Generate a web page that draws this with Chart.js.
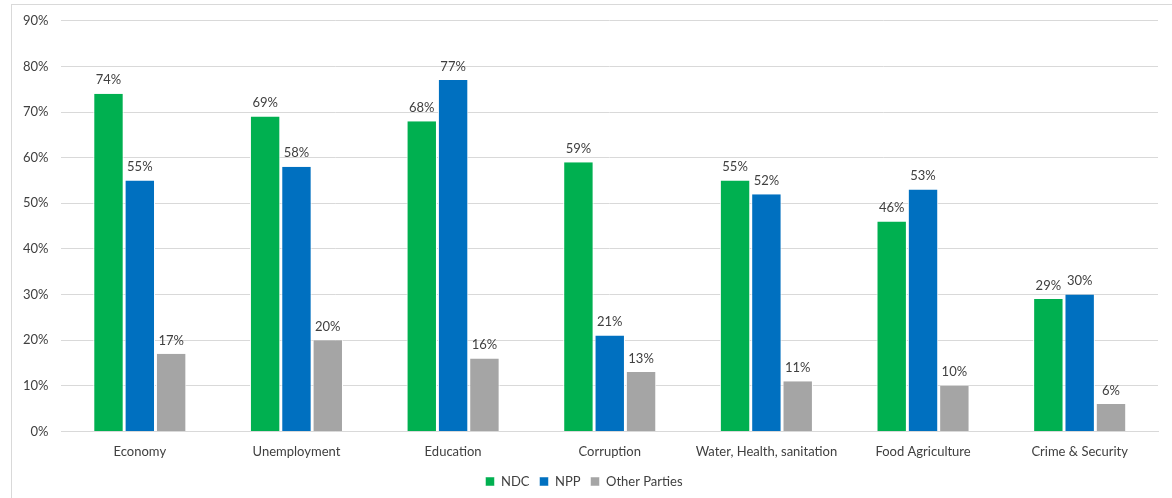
<!DOCTYPE html>
<html>
<head>
<meta charset="utf-8">
<script src="https://cdn.jsdelivr.net/npm/chart.js@4"></script>
<style>
  html, body { margin: 0; padding: 0; background: #fff; }
  #frame {
    position: absolute; left: 11px; top: 4px; width: 1170px; height: 500px;
    border-top: 1px solid #d9d9d9; border-left: 1px solid #d9d9d9;
  }
  #wrap { position: absolute; left: 0; top: 0; width: 1172px; height: 498px; }
</style>
</head>
<body>
<div id="frame"></div>
<div id="wrap"><canvas id="chart"></canvas></div>
<script>
// categories and values (percent)
const categories = ['Economy', 'Unemployment', 'Education', 'Corruption', 'Water, Health, sanitation', 'Food Agriculture', 'Crime & Security'];
const ndc = [74, 69, 68, 59, 55, 46, 29];
const npp = [55, 58, 77, 21, 52, 53, 30];
const others = [17, 20, 16, 13, 11, 10, 6];
const yTicks = [0, 10, 20, 30, 40, 50, 60, 70, 80, 90];

const FONT = 'Lato, "Open Sans", sans-serif';
const TEXT = '#404040';

// value labels above each bar
const barLabels = {
  id: 'barLabels',
  afterDatasetsDraw(chart) {
    const ctx = chart.ctx;
    ctx.save();
    ctx.font = '13px ' + FONT;
    ctx.fillStyle = TEXT;
    ctx.textAlign = 'center';
    ctx.textBaseline = 'bottom';
    chart.data.datasets.forEach((ds, i) => {
      chart.getDatasetMeta(i).data.forEach((bar, j) => {
        ctx.fillText(ds.data[j] + '%', bar.x, bar.y - 7);
      });
    });
    ctx.restore();
  }
};

new Chart(document.getElementById('chart'), {
  type: 'bar',
  data: {
    labels: categories,
    datasets: [
      { label: 'NDC', data: ndc, backgroundColor: '#00b050' },
      { label: 'NPP', data: npp, backgroundColor: '#0070c0' },
      { label: 'Other Parties', data: others, backgroundColor: '#a5a5a5' }
    ]
  },
  options: {
    responsive: true,
    maintainAspectRatio: false,
    animation: false,
    layout: { padding: { left: 10, right: 14, top: 10, bottom: 0 } },
    datasets: {
      bar: {
        categoryPercentage: 0.6,
        barPercentage: 0.97,
        borderColor: '#ffffff',
        borderWidth: { left: 1, right: 1 }
      }
    },
    plugins: {
      legend: {
        position: 'bottom',
        labels: {
          boxWidth: 9, boxHeight: 9, padding: 10,
          color: TEXT, font: { family: FONT, size: 13 }
        }
      },
      tooltip: { enabled: false }
    },
    scales: {
      x: {
        grid: { display: false },
        border: { color: '#d9d9d9' },
        ticks: { color: TEXT, font: { family: FONT, size: 13 }, padding: 5, maxRotation: 0 }
      },
      y: {
        min: 0, max: 90,
        afterBuildTicks: axis => { axis.ticks = yTicks.map(v => ({ value: v })); },
        grid: { color: '#d9d9d9', drawTicks: false },
        border: { display: false },
        ticks: { color: TEXT, font: { family: FONT, size: 13 }, padding: 13, callback: v => v + '%' }
      }
    }
  },
  plugins: [barLabels]
});
</script>
</body>
</html>
